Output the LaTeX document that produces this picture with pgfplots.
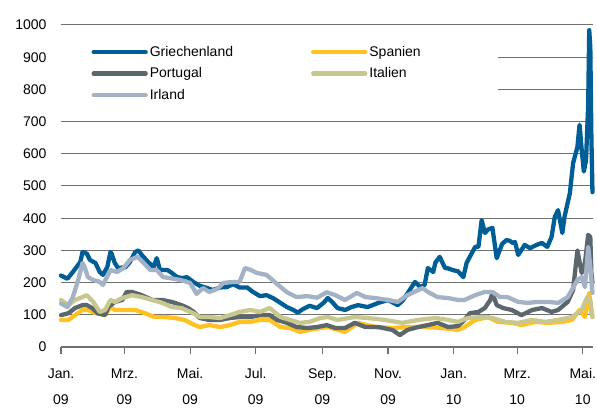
\documentclass[border=0pt]{standalone}
\usepackage{fontspec}
\setmainfont{Liberation Sans}
\usepackage{pgfplots}
\pgfplotsset{compat=1.18}
\definecolor{grc}{HTML}{005E96}
\definecolor{esc}{HTML}{FFC222}
\definecolor{ptc}{HTML}{5B676D}
\definecolor{itc}{HTML}{C8C88E}
\definecolor{iec}{HTML}{A3B2C6}
\definecolor{gridc}{HTML}{707070}

\pgfplotstableread{
d v
0 222
6 212
11 233
18 264
20 295
24 290
27 270
32 261
36 233
39 224
43 248
46 295
47 290
50 261
53 245
60 248
64 264
69 295
72 300
75 286
81 264
86 248
89 276
92 239
99 239
103 230
108 217
113 214
117 217
123 202
129 190
136 183
141 177
148 185
154 186
160 195
166 185
173 185
178 172
185 158
191 161
197 152
204 137
210 124
216 115
220 107
225 118
231 128
238 121
244 137
248 152
252 140
257 121
264 115
270 124
276 130
285 124
295 137
304 146
313 130
318 146
323 171
329 202
334 186
338 193
341 245
346 233
348 262
352 280
357 245
359 245
364 239
369 235
374 217
377 261
380 280
385 311
388 311
391 394
394 354
397 365
401 370
405 276
410 320
414 332
417 330
420 323
422 326
425 286
431 317
436 307
442 317
447 323
452 311
456 342
459 404
462 425
466 354
468 404
473 478
476 571
480 621
482 690
484 612
486 545
488 580
490 750
491 984
492 930
493 650
494 481
}\grdata

\pgfplotstableread{
d v
0 84
7 84
13 99
20 115
25 115
32 105
41 99
46 124
50 115
59 115
69 115
78 105
87 93
97 93
106 90
115 84
123 70
129 62
138 68
148 62
157 68
166 78
176 78
185 84
194 84
204 62
213 59
222 47
231 53
241 59
248 62
264 47
276 75
292 62
308 59
322 62
338 62
354 59
369 53
375 62
385 84
397 93
406 78
419 75
428 68
441 78
453 75
466 78
475 84
482 115
487 93
491 168
493 105
494 93
}\esdata

\pgfplotstableread{
d v
0 99
7 105
13 121
20 130
24 130
29 121
34 105
41 99
44 124
50 140
57 146
61 171
66 171
75 161
85 146
94 146
103 140
112 130
118 121
123 110
129 90
138 84
148 84
157 90
166 93
176 93
185 99
194 99
201 84
210 75
219 62
229 59
238 62
247 68
255 59
264 59
273 75
283 62
295 62
308 53
315 37
322 53
332 62
341 68
350 75
360 62
369 65
375 84
380 105
388 109
394 121
399 146
401 168
405 130
411 121
419 115
428 99
438 115
447 121
456 109
462 115
471 140
476 177
480 300
484 230
487 261
490 348
492 342
493 230
494 199
}\ptdata

\pgfplotstableread{
d v
0 146
7 130
13 146
20 155
24 161
30 140
36 109
41 115
46 146
50 140
57 152
66 161
75 155
85 146
94 137
103 124
112 121
123 105
129 93
138 93
148 90
157 99
166 109
176 115
185 109
194 121
204 93
213 84
222 75
231 78
241 90
248 93
257 84
273 93
285 90
301 84
317 75
332 84
348 90
360 84
369 78
378 90
391 93
401 90
413 78
425 75
438 84
450 78
462 84
475 93
484 115
489 155
492 146
494 93
}\itdata

\pgfplotstableread{
d v
0 135
6 124
11 155
16 208
20 261
22 248
25 217
30 208
36 202
39 193
46 239
52 233
58 245
64 270
71 280
76 264
83 239
89 239
95 217
101 214
111 208
120 199
126 165
132 183
138 171
145 180
151 199
160 202
166 202
171 245
176 240
182 230
191 224
201 195
210 170
219 155
229 158
238 153
247 170
255 161
264 146
275 168
283 155
292 152
304 146
313 140
322 161
336 183
341 171
350 155
360 152
369 146
375 146
385 161
394 171
401 171
408 155
415 155
425 140
434 137
443 140
453 140
462 137
471 155
480 208
484 217
487 186
490 311
492 250
493 208
494 168
}\iedata

\begin{document}
\begin{tikzpicture}
\useasboundingbox (-61bp,-65bp) rectangle (536bp,347bp);
\begin{axis}[
  at={(0,0)}, anchor=south west,
  scale only axis, width=532bp, height=322bp,
  xmin=0, xmax=494.5, ymin=0, ymax=1000,
  clip=false,
  axis x line*=bottom, axis y line*=left,
  x axis line style={gridc, line width=1.2bp, -},
  y axis line style={draw=none},
  ytick={0,100,...,1000},
  ymajorgrids, grid style={gridc, line width=1bp},
  xtick={0,59,120,181,243,304,365,424,485},
  xticklabels={Jan.\\09, Mrz.\\09, Mai.\\09, Jul.\\09, Sep.\\09, Nov.\\09, Jan.\\10, Mrz.\\10, Mai.\\10},
  tick align=outside, major tick length=7bp,
  x tick style={gridc, line width=1.2bp},
  y tick style={draw=none},
  /pgf/number format/assume math mode=true,
  /pgf/number format/1000 sep={},
  tick label style={font=\fontsize{14bp}{26bp}\selectfont},
  xticklabel style={align=center, yshift=-11bp},
  yticklabel style={xshift=-4bp},
  legend columns=2,
  legend cell align=left,
  legend image code/.code={\draw[#1] (0bp,0bp) -- (52bp,0bp);},
  legend style={at={(axis description cs:0.057,0.941)}, anchor=north west,
    draw=none, fill=none, inner sep=0pt, row sep=6bp,
    font=\fontsize{14bp}{16bp}\selectfont,
    /tikz/every even column/.append style={column sep=76bp}},
  every axis plot/.append style={line width=4.3bp, line join=round, line cap=round},
]
\fill[white] (axis cs:0,730) rectangle (axis cs:406,975);
\addplot[grc] table[x=d,y=v] {\grdata};
\addlegendentry{Griechenland}
\addplot[esc] table[x=d,y=v] {\esdata};
\addlegendentry{Spanien}
\addplot[ptc] table[x=d,y=v] {\ptdata};
\addlegendentry{Portugal}
\addplot[itc] table[x=d,y=v] {\itdata};
\addlegendentry{Italien}
\addplot[iec] table[x=d,y=v] {\iedata};
\addlegendentry{Irland}
\end{axis}
\end{tikzpicture}
\end{document}
